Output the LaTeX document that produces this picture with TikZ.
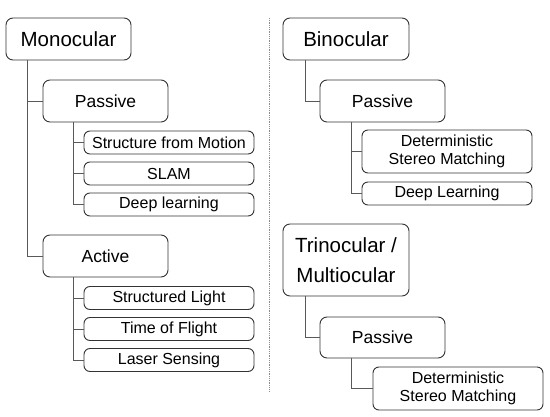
\documentclass[tikz,border=0pt]{standalone}
\usepackage{fontspec}
\setmainfont{Liberation Sans}
\usepackage{xcolor}
\usepackage{tikz}
\usetikzlibrary{positioning}

\begin{document}
\begin{tikzpicture}[x=1pt, y=-1pt,
      big/.style={draw=black!80, line width=0.9pt, rounded corners=7pt, minimum width=125pt, minimum height=42pt, inner sep=2pt, align=center, font=\fontsize{20.5}{30}\selectfont},
      sub/.style={draw=black!80, line width=0.9pt, rounded corners=7pt, minimum width=125pt, minimum height=42pt, inner sep=2pt, font=\fontsize{17.5}{21}\selectfont},
      leaf/.style={draw=black!80, line width=0.9pt, rounded corners=6pt, minimum width=170pt, minimum height=23pt, inner sep=1pt, align=center, font=\fontsize{16}{18.5}\selectfont},
      conn/.style={draw=black!65, line width=0.8pt}]
    \useasboundingbox (0,0) rectangle (550,417);
    % monocular tree
    \node[big] (mono) at (68.5, 39) {Monocular};
    \node[sub] (pasL) at (105.5, 101) {Passive};
    \node[leaf] (sfm) at (169, 142.5) {Structure from Motion};
    \node[leaf] (slam) at (169, 173.5) {SLAM};
    \node[leaf] (dlL) at (169, 204.5) {Deep learning};
    \node[sub] (act) at (105.5, 256) {Active};
    \node[leaf] (sl) at (169, 298) {Structured Light};
    \node[leaf] (tof) at (169, 329) {Time of Flight};
    \node[leaf] (las) at (169, 360) {Laser Sensing};
    \draw[conn] ([xshift=21.7pt]mono.south west) |- (pasL.west);
    \draw[conn] ([xshift=21.7pt]mono.south west) |- (act.west);
    \foreach \n in {sfm, slam, dlL} { \draw[conn] ([xshift=31pt]pasL.south west) |- (\n.west); }
    \foreach \n in {sl, tof, las} { \draw[conn] ([xshift=31pt]act.south west) |- (\n.west); }
    % separator
    \coordinate (sepT) at (269, 18);
    \coordinate (sepB) at (269, 392);
    \draw[black!45, densely dotted, line width=0.8pt] (sepT) -- (sepB);
    % binocular tree
    \node[big, minimum width=126pt] (bino) at (346, 39) {Binocular};
    \node[sub] (pasR) at (382.5, 101) {Passive};
    \node[leaf, minimum height=43pt] (dsm) at (447, 151.5) {Deterministic\\Stereo Matching};
    \node[leaf] (dlR) at (447, 193.5) {Deep Learning};
    \draw[conn] ([xshift=23pt]bino.south west) |- (pasR.west);
    \foreach \n in {dsm, dlR} { \draw[conn] ([xshift=32pt]pasR.south west) |- (\n.west); }
    % trinocular / multiocular tree
    \node[big, minimum width=126pt, minimum height=72pt] (tri) at (346, 260) {Trinocular /\\Multiocular};
    \node[sub, minimum height=41pt] (pasT) at (382.5, 337.5) {Passive};
    \node[leaf, minimum height=43pt] (dsmT) at (458, 388.5) {Deterministic\\Stereo Matching};
    \draw[conn] ([xshift=23pt]tri.south west) |- (pasT.west);
    \draw[conn] ([xshift=32pt]pasT.south west) |- (dsmT.west);
\end{tikzpicture}
\end{document}
